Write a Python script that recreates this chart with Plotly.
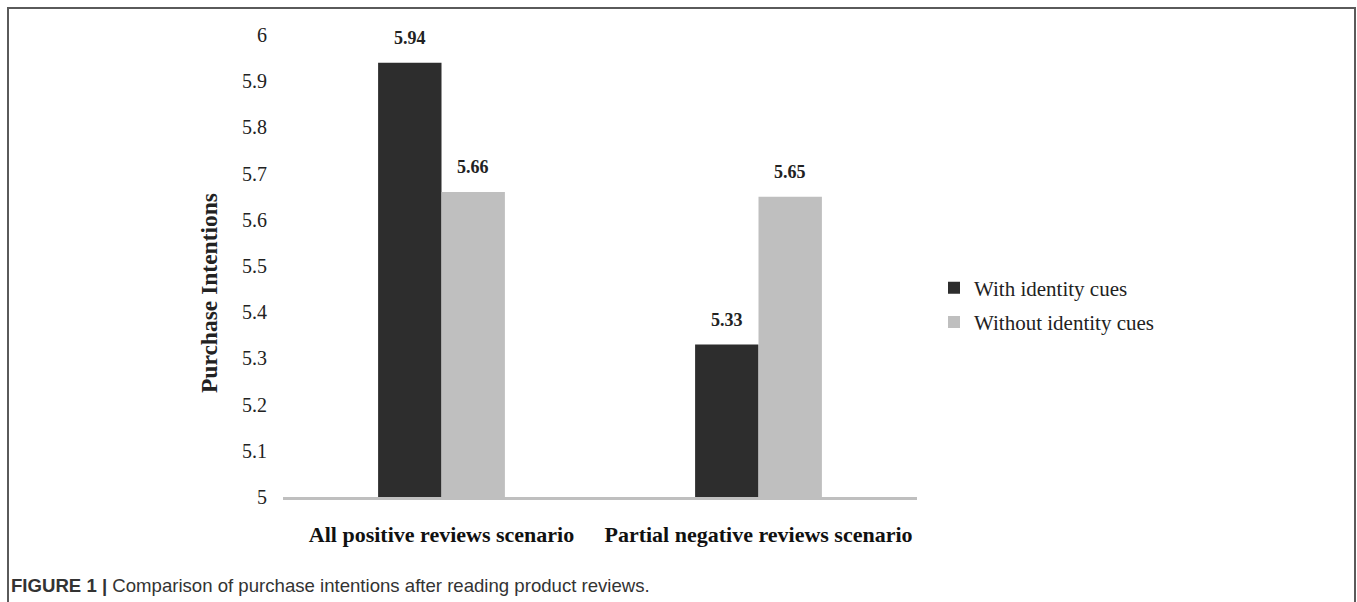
import plotly.graph_objects as go

categories = ["All positive reviews scenario", "Partial negative reviews scenario"]
series_names = ["With identity cues", "Without identity cues"]
with_cues = [5.94, 5.33]
without_cues = [5.66, 5.65]
y_ticks = [5, 5.1, 5.2, 5.3, 5.4, 5.5, 5.6, 5.7, 5.8, 5.9, 6]
y_tick_labels = ["5", "5.1", "5.2", "5.3", "5.4", "5.5", "5.6", "5.7", "5.8", "5.9", "6"]
baseline = 5

W, H = 1357, 602
L, R, T, B = 283, 917, 35, 497
colors = ["#2d2d2d", "#bfbfbf"]
serif = "Liberation Serif, Times New Roman, serif"


def px_x(p):
    return (p - L) / (R - L)


def px_y(p):
    return (B - p) / (B - T)


fig = go.Figure()
for name, vals, c in zip(series_names, [with_cues, without_cues], colors):
    fig.add_trace(go.Bar(x=categories, y=[v - baseline for v in vals], base=baseline, name=name,
                         legendgroup=name,
                         marker=dict(color=c, line=dict(width=0))))

annotations = []
bar_w = (R - L) / len(categories) * 0.4 / 2
for i, vals in enumerate([with_cues, without_cues]):
    shift = -bar_w / 2 if i == 0 else bar_w / 2
    for cat, v in zip(categories, vals):
        annotations.append(dict(x=cat, y=v, text=f"<b>{v:.2f}</b>", showarrow=False, xshift=shift,
                                yshift=25, font=dict(family=serif, size=18, color="#222"),
                                xref="x", yref="y"))

annotations.append(dict(x=px_x(194), y=px_y(293), xref="paper", yref="paper", text="<b>Purchase Intentions</b>",
                        textangle=-90, showarrow=False, font=dict(family=serif, size=23.5, color="#222")))
annotations.append(dict(x=px_x(9), y=px_y(585), xref="paper", yref="paper", xanchor="left", yanchor="middle",
                        text="<b>FIGURE 1 |</b> Comparison of purchase intentions after reading product reviews.",
                        showarrow=False, font=dict(family="Liberation Sans, Arial, sans-serif", size=18.6, color="#333")))

fig.update_layout(
    width=W, height=H,
    margin=dict(l=L, r=W - R, t=T, b=H - B),
    paper_bgcolor="white", plot_bgcolor="white",
    barmode="group", bargap=0.6, bargroupgap=0,
    showlegend=True,
    legend=dict(x=px_x(934), y=px_y(305), yanchor="middle", xanchor="left", traceorder="grouped",
                font=dict(family=serif, size=21, color="#222"), itemwidth=30, tracegroupgap=4),
    annotations=annotations,
    shapes=[dict(type="rect", xref="paper", yref="paper", x0=px_x(8), x1=px_x(1355), y0=px_y(640), y1=px_y(8),
                 line=dict(color="#5a5a5a", width=2), fillcolor="rgba(0,0,0,0)", layer="below")],
)
fig.update_xaxes(showline=True, linecolor="#bfbfbf", linewidth=3, showgrid=False, ticks="",
                 tickfont=dict(family=serif, size=22, color="#111"), ticklabelstandoff=16,
                 tickprefix="<b>", ticksuffix="</b>")
fig.update_yaxes(range=[5, 6], tickvals=y_ticks, ticktext=y_tick_labels, showgrid=False, showline=False,
                 zeroline=False, tickfont=dict(family=serif, size=20, color="#222"), ticks="",
                 ticklabelstandoff=15)

fig.write_html("out.html")
